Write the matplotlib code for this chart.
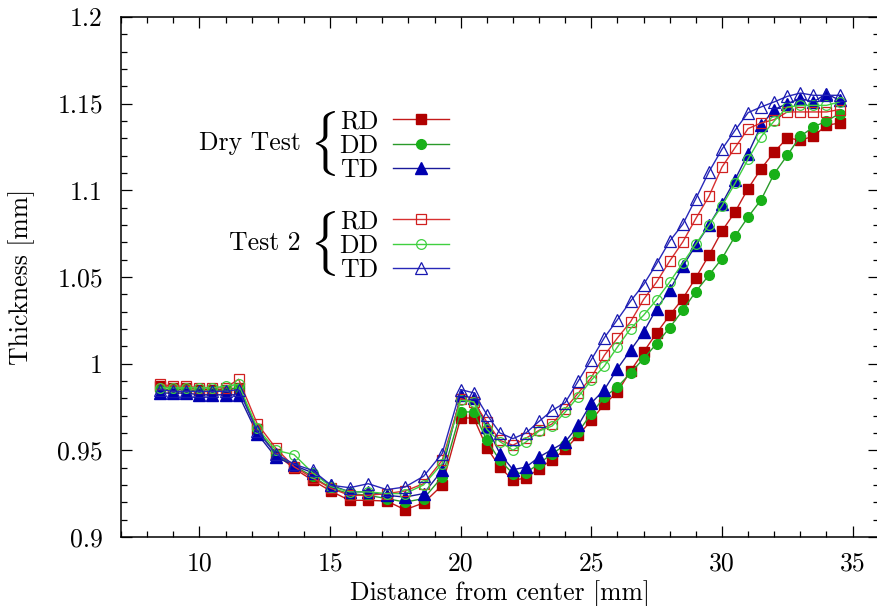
import matplotlib
matplotlib.use("Agg")
import matplotlib.pyplot as plt
from matplotlib.ticker import MultipleLocator, FuncFormatter

plt.rcParams["font.family"] = "serif"
plt.rcParams["font.serif"] = ["cmr10", "DejaVu Serif"]
plt.rcParams["mathtext.fontset"] = "cm"
plt.rcParams["axes.formatter.use_mathtext"] = True

# distance from center [mm]
x = [8.5, 9.0, 9.5, 10.0, 10.5, 11.0, 11.5,
     12.21, 12.92, 13.62, 14.33, 15.04, 15.75, 16.46, 17.17, 17.87, 18.58, 19.29,
     20.0, 20.5, 21.0, 21.5, 22.0, 22.5, 23.0, 23.5, 24.0, 24.5, 25.0, 25.5,
     26.0, 26.5, 27.0, 27.5, 28.0, 28.5, 29.0, 29.5, 30.0, 30.5, 31.0, 31.5,
     32.0, 32.5, 33.0, 33.5, 34.0, 34.5]

# dry test thickness [mm]
dry_rd = [0.987, 0.986, 0.986, 0.985, 0.985, 0.985, 0.986,
          0.962, 0.948, 0.9395, 0.9327, 0.9263, 0.9211, 0.9211, 0.9207, 0.9157, 0.9196, 0.9298,
          0.9686, 0.9686, 0.9515, 0.9403, 0.9327, 0.934, 0.9394, 0.9446, 0.9505, 0.9586, 0.9673, 0.9766,
          0.9836, 0.9958, 1.0067, 1.0177, 1.0279, 1.0375, 1.0496, 1.0625, 1.0765, 1.0875, 1.101, 1.1125,
          1.1221, 1.1302, 1.1289, 1.1312, 1.1375, 1.1388]
dry_dd = [0.985, 0.985, 0.985, 0.984, 0.984, 0.985, 0.986,
          0.962, 0.948, 0.941, 0.935, 0.928, 0.925, 0.924, 0.9221, 0.9201, 0.9221, 0.9346,
          0.9721, 0.9721, 0.9557, 0.9442, 0.9365, 0.937, 0.9423, 0.9481, 0.9529, 0.9605, 0.9712, 0.9807,
          0.9865, 0.9946, 1.0029, 1.0115, 1.0208, 1.0308, 1.0416, 1.051, 1.0606, 1.0735, 1.0846, 1.0946,
          1.1096, 1.1202, 1.1312, 1.1365, 1.140, 1.1442]
dry_td = [0.983, 0.983, 0.983, 0.982, 0.982, 0.982, 0.982,
          0.9596, 0.9461, 0.9413, 0.937, 0.9298, 0.926, 0.926, 0.924, 0.923, 0.925, 0.9384,
          0.9817, 0.980, 0.9634, 0.9481, 0.9388, 0.9403, 0.9461, 0.9504, 0.9548, 0.9644, 0.9773, 0.985,
          0.9971, 1.0077, 1.0182, 1.0317, 1.0423, 1.0562, 1.0683, 1.0798, 1.0923, 1.1062, 1.1212, 1.1375,
          1.1466, 1.150, 1.1529, 1.151, 1.1558, 1.1519]

# test 2 thickness [mm]
t2_rd = [0.988, 0.987, 0.987, 0.986, 0.986, 0.986, 0.991,
         0.9654, 0.9513, 0.9405, 0.934, 0.928, 0.924, 0.924, 0.925, 0.9265, 0.9307, 0.9442,
         0.9798, 0.9778, 0.9663, 0.9557, 0.9529, 0.957, 0.9615, 0.9652, 0.974, 0.983, 0.992, 1.0048,
         1.0148, 1.0241, 1.037, 1.0471, 1.0592, 1.0702, 1.0837, 1.0965, 1.1134, 1.1246, 1.1356, 1.1388,
         1.1408, 1.1452, 1.1452, 1.1452, 1.1452, 1.1466]
t2_dd = [0.986, 0.986, 0.986, 0.986, 0.986, 0.987, 0.988,
         0.963, 0.950, 0.9475, 0.937, 0.929, 0.926, 0.926, 0.925, 0.925, 0.930, 0.9423,
         0.9788, 0.978, 0.962, 0.955, 0.950, 0.9548, 0.9611, 0.964, 0.972, 0.981, 0.9904, 0.9986,
         1.0096, 1.0202, 1.0279, 1.0369, 1.0471, 1.058, 1.069, 1.080, 1.091, 1.104, 1.118, 1.131,
         1.140, 1.148, 1.149, 1.149, 1.149, 1.151]
t2_td = [0.985, 0.984, 0.984, 0.984, 0.984, 0.984, 0.985,
         0.961, 0.948, 0.942, 0.9384, 0.9298, 0.9284, 0.9307, 0.9273, 0.9288, 0.935, 0.9481,
         0.985, 0.9831, 0.9706, 0.960, 0.9567, 0.960, 0.9667, 0.973, 0.9775, 0.990, 1.0023, 1.015,
         1.0254, 1.036, 1.0456, 1.0577, 1.0707, 1.0804, 1.0952, 1.1106, 1.1237, 1.1346, 1.1448, 1.1481,
         1.151, 1.1542, 1.1561, 1.1548, 1.1548, 1.1548]

fig = plt.figure(figsize=(8.77, 6.06), dpi=100)
ax = fig.add_axes([0.138, 0.114, 0.864, 0.858])

fs = 18.5
lw = 1.0
dry_lines = [
    ax.plot(x, dry_rd, color="#c41a1a", lw=lw, marker="s", ms=6.5, mfc="#b00000", mec="#b00000")[0],
    ax.plot(x, dry_dd, color="#2a9a2a", lw=lw, marker="o", ms=7, mfc="#18b018", mec="#18b018")[0],
    ax.plot(x, dry_td, color="#1a1a9a", lw=lw, marker="^", ms=8, mfc="#0000b0", mec="#0000b0")[0],
]
t2_lines = [
    ax.plot(x, t2_rd, color="#d83030", lw=lw, marker="s", ms=7, mfc="none", mec="#d02020", mew=0.9)[0],
    ax.plot(x, t2_dd, color="#40d040", lw=lw, marker="o", ms=7, mfc="none", mec="#40d040", mew=0.9)[0],
    ax.plot(x, t2_td, color="#2828b8", lw=lw, marker="^", ms=8.5, mfc="none", mec="#1818b0", mew=0.9)[0],
]

ax.set_xlim(7, 36)
ax.set_ylim(0.9, 1.2)
ax.xaxis.set_major_locator(MultipleLocator(5))
ax.xaxis.set_minor_locator(MultipleLocator(1))
ax.yaxis.set_major_locator(MultipleLocator(0.05))
ax.yaxis.set_minor_locator(MultipleLocator(0.01))
ax.yaxis.set_major_formatter(FuncFormatter(lambda v, p: f"{v:g}"))
ax.xaxis.set_major_formatter(FuncFormatter(lambda v, p: f"{v:g}"))
ax.tick_params(which="both", direction="in", top=True, right=True, labelsize=fs, width=0.9)
ax.tick_params(which="major", length=8)
ax.tick_params(which="minor", length=4)
ax.tick_params(axis="y", which="major", pad=13)
ax.tick_params(axis="x", which="major", pad=11)
for s in ax.spines.values():
    s.set_linewidth(1.1)

ax.set_xlabel("Distance from center [mm]", fontsize=fs, labelpad=3)
ax.set_ylabel("Thickness [mm]", fontsize=fs, labelpad=16)

leg_kw = dict(markerfirst=False, frameon=False, loc="upper left", fontsize=fs,
              handlelength=2.2, handletextpad=0.55, labelspacing=0.03, borderpad=0,
              numpoints=1, borderaxespad=0)
leg1 = ax.legend(dry_lines, ["RD", "DD", "TD"], bbox_to_anchor=(0.288, 0.822), **leg_kw)
ax.add_artist(leg1)
ax.legend(t2_lines, ["RD", "DD", "TD"], bbox_to_anchor=(0.288, 0.630), **leg_kw)

ax.text(0.237, 0.757, "Dry Test", transform=ax.transAxes, ha="right", va="center", fontsize=fs)
ax.text(0.237, 0.565, "Test 2", transform=ax.transAxes, ha="right", va="center", fontsize=fs)
ax.text(0.266, 0.757, r"$\{$", transform=ax.transAxes, ha="center", va="center", fontsize=38)
ax.text(0.266, 0.565, r"$\{$", transform=ax.transAxes, ha="center", va="center", fontsize=38)

fig.savefig("out.png", dpi=100)
